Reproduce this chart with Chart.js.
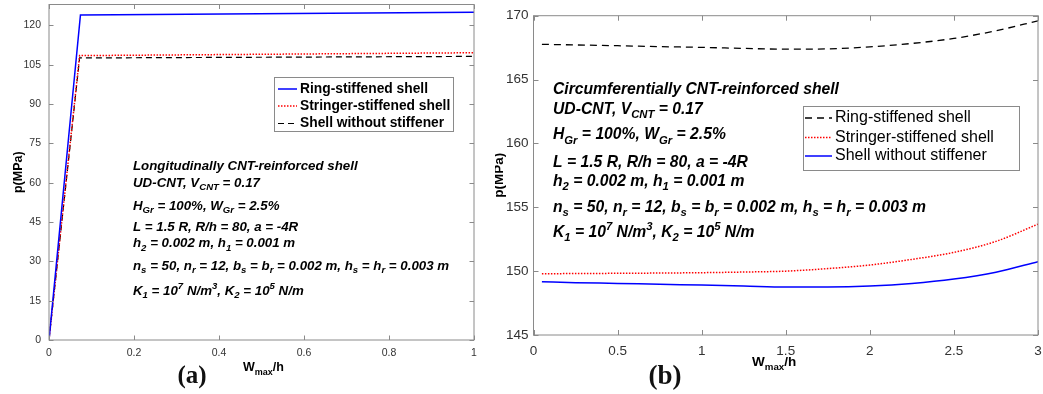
<!DOCTYPE html>
<html>
<head>
<meta charset="utf-8">
<script src="https://cdn.jsdelivr.net/npm/chart.js@4.4.1/dist/chart.umd.min.js"></script>
<style>
body { margin: 0; background: #fff; }
#wrap { position: relative; width: 1043px; height: 394px; overflow: hidden; }
canvas { position: absolute; top: 0; }
#chartA { left: 0; }
#chartB { left: 495px; }
</style>
</head>
<body>
<div id="wrap">
  <canvas id="chartA" width="500" height="394"></canvas>
  <canvas id="chartB" width="548" height="394"></canvas>
</div>
<script>
// --- panel (a) : longitudinally reinforced ---
const xRingA = [0, 0.074, 1];
const yRingA = [0, 124.0, 125.0];
const xStringerA = [0, 0.072, 1];
const yStringerA = [0, 108.5, 109.6];
const xPlainA = [0, 0.072, 1];
const yPlainA = [0, 107.6, 108.2];
const xTicksA = [0, 0.2, 0.4, 0.6, 0.8, 1];
const yTicksA = [0, 15, 30, 45, 60, 75, 90, 105, 120];

// --- panel (b) : circumferentially reinforced ---
const xB = [0.05, 0.25, 0.5, 0.75, 1, 1.25, 1.5, 1.75, 2, 2.25, 2.5, 2.75, 3];
const yRingB = [167.76, 167.71, 167.65, 167.58, 167.52, 167.44, 167.38, 167.40, 167.56, 167.83, 168.22, 168.82, 169.6];
const yStringerB = [149.80, 149.81, 149.83, 149.85, 149.88, 149.93, 150.0, 150.2, 150.48, 150.92, 151.47, 152.33, 153.68];
const yPlainB = [149.17, 149.10, 149.04, 148.97, 148.91, 148.84, 148.76, 148.76, 148.83, 149.03, 149.38, 149.92, 150.74];
const xTicksB = [0, 0.5, 1, 1.5, 2, 2.5, 3];
const yTicksB = [145, 150, 155, 160, 165, 170];

const seriesLabels = ['Ring-stiffened shell', 'Stringer-stiffened shell', 'Shell without stiffener'];

const FONT = '"Liberation Sans", Arial, sans-serif';
const SERIF = '"Liberation Serif", "Times New Roman", serif';

function pts(xs, ys) {
    return xs.map((x, i) => ({ x: x, y: ys[i] }));
}

// text with sub/superscripts, segs = [[text, mode], ...]
function drawRich(ctx, x, y, segs, size, style) {
    let cx = x;
    segs.forEach(seg => {
        const t = seg[0], mode = seg[1] || '';
        let fs = size, dy = 0;
        if (mode === 'sub') { fs = size * 0.72; dy = size * 0.36; }
        if (mode === 'sup') { fs = size * 0.72; dy = -size * 0.36; }
        ctx.font = style + ' ' + fs + 'px ' + FONT;
        ctx.fillText(t, cx, y + dy);
        cx += ctx.measureText(t).width;
    });
}

function noteLines(first) {
    return [
        [[first]],
        [['UD-CNT, V'], ['CNT', 'sub'], [' = 0.17']],
        [['H'], ['Gr', 'sub'], [' = 100%, W'], ['Gr', 'sub'], [' = 2.5%']],
        [['L = 1.5 R, R/h = 80, a = -4R']],
        [['h'], ['2', 'sub'], [' = 0.002 m, h'], ['1', 'sub'], [' = 0.001 m']],
        [['n'], ['s', 'sub'], [' = 50, n'], ['r', 'sub'], [' = 12, b'], ['s', 'sub'], [' = b'], ['r', 'sub'],
         [' = 0.002 m, h'], ['s', 'sub'], [' = h'], ['r', 'sub'], [' = 0.003 m']],
        [['K'], ['1', 'sub'], [' = 10'], ['7', 'sup'], [' N/m'], ['3', 'sup'], [', K'], ['2', 'sub'],
         [' = 10'], ['5', 'sup'], [' N/m']]
    ];
}

// MATLAB-like frame, inward ticks, legend, notes and axis titles
function panelPlugin(cfg) {
    return {
        id: 'panel',
        afterDraw(chart) {
            const ctx = chart.ctx;
            const a = chart.chartArea;
            const sx = chart.scales.x, sy = chart.scales.y;
            ctx.save();

            // box + ticks
            ctx.strokeStyle = '#8a8a8a';
            ctx.lineWidth = 1;
            ctx.strokeRect(a.left, a.top, a.right - a.left, a.bottom - a.top);
            ctx.beginPath();
            cfg.xTicks.forEach(v => {
                const px = Math.round(sx.getPixelForValue(v)) + 0.5;
                ctx.moveTo(px, a.bottom); ctx.lineTo(px, a.bottom - cfg.tick);
                ctx.moveTo(px, a.top); ctx.lineTo(px, a.top + cfg.tick);
            });
            cfg.yTicks.forEach(v => {
                const py = Math.round(sy.getPixelForValue(v)) + 0.5;
                ctx.moveTo(a.left, py); ctx.lineTo(a.left + cfg.tick, py);
                ctx.moveTo(a.right, py); ctx.lineTo(a.right - cfg.tick, py);
            });
            ctx.stroke();

            // legend
            const lg = cfg.legend;
            ctx.fillStyle = '#fff';
            ctx.fillRect(lg.x, lg.y, lg.w, lg.h);
            ctx.strokeStyle = '#8a8a8a';
            ctx.strokeRect(lg.x + 0.5, lg.y + 0.5, lg.w, lg.h);
            chart.data.datasets.forEach((ds, i) => {
                const ly = lg.rows[i];
                ctx.strokeStyle = ds.borderColor;
                ctx.lineWidth = ds.borderWidth;
                ctx.setLineDash(ds.borderDash || []);
                ctx.beginPath();
                ctx.moveTo(lg.lx0, ly); ctx.lineTo(lg.lx1, ly);
                ctx.stroke();
                ctx.setLineDash([]);
                ctx.fillStyle = '#000';
                ctx.font = lg.font;
                ctx.textBaseline = 'middle';
                ctx.textAlign = 'left';
                ctx.fillText(ds.label, lg.tx, ly);
            });

            // notes
            ctx.fillStyle = '#000';
            ctx.textBaseline = 'middle';
            cfg.notes.forEach((segs, i) => {
                drawRich(ctx, cfg.noteX, cfg.noteY[i], segs, cfg.noteSize, 'italic bold');
            });

            // x title W_max/h
            drawRich(ctx, cfg.xTitle.x, cfg.xTitle.y, [['W'], ['max', 'sub'], ['/h']], cfg.xTitle.size, 'bold');

            // y title
            ctx.save();
            ctx.translate(cfg.yTitle.x, (a.top + a.bottom) / 2);
            ctx.rotate(-Math.PI / 2);
            ctx.textAlign = 'center';
            ctx.font = 'bold ' + cfg.yTitle.size + 'px ' + FONT;
            ctx.fillText('p(MPa)', 0, 0);
            ctx.restore();

            // panel tag
            ctx.font = 'bold ' + cfg.tag.size + 'px ' + SERIF;
            ctx.fillStyle = '#111';
            ctx.textAlign = 'center';
            ctx.textBaseline = 'middle';
            ctx.fillText(cfg.tag.text, cfg.tag.x, cfg.tag.y);
            ctx.restore();
        }
    };
}

function makeChart(id, datasets, cfg) {
    const ctx = document.getElementById(id).getContext('2d');
    return new Chart(ctx, {
        type: 'line',
        data: { datasets: datasets },
        options: {
            responsive: false,
            animation: false,
            events: [],
            layout: { padding: cfg.padding },
            elements: { point: { radius: 0 } },
            plugins: { legend: { display: false }, tooltip: { enabled: false } },
            scales: {
                x: {
                    type: 'linear', min: cfg.xMin, max: cfg.xMax,
                    grid: { display: false, drawTicks: false },
                    border: { display: false },
                    afterBuildTicks: s => { s.ticks = cfg.xTicks.map(v => ({ value: v })); },
                    afterFit: s => { s.height = cfg.xHeight; s.paddingLeft = 0; s.paddingRight = 0; },
                    ticks: { padding: cfg.xPad, autoSkip: false, maxRotation: 0, color: '#333',
                             callback: v => String(v),
                             font: { family: FONT, size: cfg.tickSize } }
                },
                y: {
                    type: 'linear', min: cfg.yMin, max: cfg.yMax,
                    grid: { display: false, drawTicks: false },
                    border: { display: false },
                    afterBuildTicks: s => { s.ticks = cfg.yTicks.map(v => ({ value: v })); },
                    afterFit: s => { s.width = cfg.yWidth; s.paddingTop = 0; s.paddingBottom = 0; },
                    ticks: { padding: cfg.yPad, autoSkip: false, color: '#333',
                             callback: v => String(v),
                             font: { family: FONT, size: cfg.tickSize } }
                }
            }
        },
        plugins: [panelPlugin(cfg)]
    });
}

// Panel (a)
makeChart('chartA', [
    { label: seriesLabels[0], data: pts(xRingA, yRingA), borderColor: '#0000ff', borderWidth: 1.5, tension: 0 },
    { label: seriesLabels[1], data: pts(xStringerA, yStringerA), borderColor: '#ff0000', borderWidth: 1.5, borderDash: [1.5, 1.5], tension: 0 },
    { label: seriesLabels[2], data: pts(xPlainA, yPlainA), borderColor: '#000000', borderWidth: 1.2, borderDash: [6, 4], tension: 0 }
], {
    padding: { top: 4.5, right: 26, left: 0, bottom: 0 },
    xMin: 0, xMax: 1, yMin: 0, yMax: 128,
    xTicks: xTicksA, yTicks: yTicksA,
    xHeight: 54, yWidth: 49, xPad: 7, yPad: 8, tickSize: 10.5, tick: 4.5,
    legend: { x: 274, y: 77, w: 179, h: 54, rows: [89, 106, 123.5], lx0: 278, lx1: 297, tx: 300,
              font: 'bold 13.8px ' + FONT },
    notes: noteLines('Longitudinally CNT-reinforced shell'),
    noteX: 133, noteY: [166, 183, 206, 227, 243.5, 266, 291], noteSize: 13.3,
    xTitle: { x: 243, y: 368, size: 12.5 },
    yTitle: { x: 18.5, size: 12.5 },
    tag: { text: '(a)', x: 192, y: 377, size: 25 }
});

// Panel (b)
makeChart('chartB', [
    { label: seriesLabels[0], data: pts(xB, yRingB), borderColor: '#000000', borderWidth: 1.3, borderDash: [7, 5], cubicInterpolationMode: 'monotone' },
    { label: seriesLabels[1], data: pts(xB, yStringerB), borderColor: '#ff0000', borderWidth: 1.5, borderDash: [1.5, 1.5], cubicInterpolationMode: 'monotone' },
    { label: seriesLabels[2], data: pts(xB, yPlainB), borderColor: '#0000ff', borderWidth: 1.5, cubicInterpolationMode: 'monotone' }
], {
    padding: { top: 15.7, right: 5, left: 0, bottom: 0 },
    xMin: 0, xMax: 3, yMin: 145, yMax: 170,
    xTicks: xTicksB, yTicks: yTicksB,
    xHeight: 59, yWidth: 38.5, xPad: 8, yPad: 5, tickSize: 13.5, tick: 5,
    legend: { x: 308, y: 106, w: 216, h: 64, rows: [118, 137.5, 156], lx0: 310, lx1: 337, tx: 340,
              font: '16px ' + FONT },
    notes: noteLines('Circumferentially CNT-reinforced shell'),
    noteX: 58, noteY: [90, 109.3, 135, 163, 181.7, 207.3, 232.7], noteSize: 15.7,
    xTitle: { x: 257, y: 362, size: 13.5 },
    yTitle: { x: 4, size: 13.5 },
    tag: { text: '(b)', x: 170, y: 377, size: 27 }
});
</script>
</body>
</html>
